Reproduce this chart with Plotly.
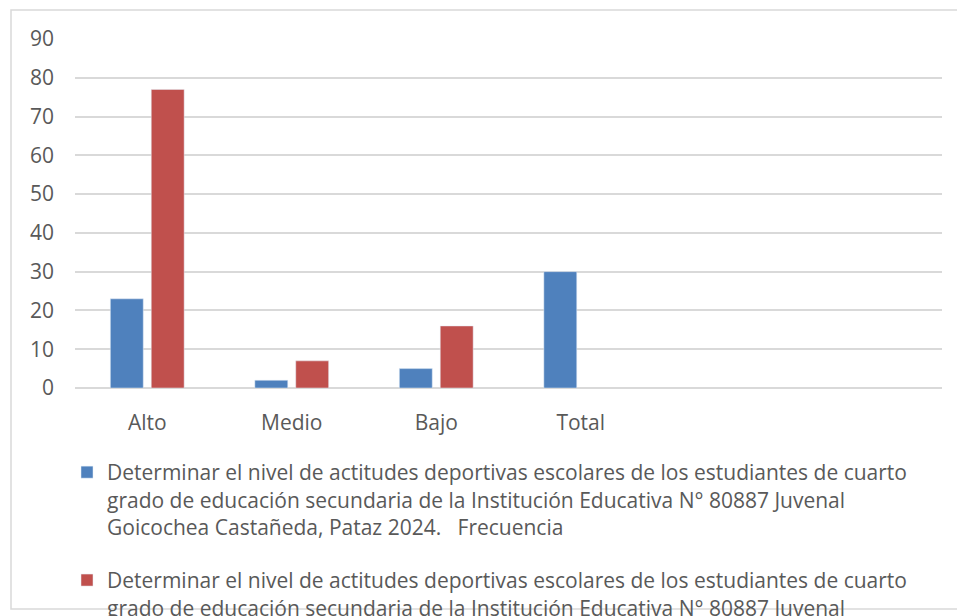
import plotly.graph_objects as go

categories = ["Alto", "Medio", "Bajo", "Total", " ", "  "]
frecuencia = [23, 2, 5, 30, None, None]
porcentaje = [77, 7, 16, None, None, None]
y_ticks = [0, 10, 20, 30, 40, 50, 60, 70, 80, 90]

name_base = ("Determinar el nivel de actitudes deportivas escolares de los estudiantes de cuarto<br>"
             "grado de educación secundaria de la Institución Educativa N° 80887 Juvenal<br>"
             "Goicochea Castañeda, Pataz 2024.   ")
name_freq = name_base + "Frecuencia"
name_pct = name_base + "Porcentaje"

# page body has an 8px margin, so the figure is drawn 8px in from the corner
OFF = 8
W, H = 965 - OFF, 616 - OFF
L = 75 - OFF
T = 39 - OFF
R = W - (942 - OFF)
B = H - (388 - OFF)
pw, ph = W - L - R, H - T - B

def px_x(p):
    return (p - OFF - L) / pw

def px_y(p):
    return (H - B - (p - OFF)) / ph

FONT = "Open Sans"
GREY = "#595959"

fig = go.Figure()
fig.add_trace(go.Bar(x=categories, y=frecuencia, name=name_freq, marker_color="#4F81BD",
                     legendgroup="a"))
fig.add_trace(go.Bar(x=categories, y=porcentaje, name=name_pct, marker_color="#C0504D",
                     legendgroup="b"))

fig.update_layout(
    width=W, height=H,
    margin=dict(l=L, r=R, t=T, b=B, autoexpand=False),
    paper_bgcolor="white", plot_bgcolor="white",
    barmode="group", bargap=0.434, bargroupgap=0.195,
    font=dict(family=FONT, color=GREY, size=21),
    xaxis=dict(showgrid=False, showline=False, zeroline=False, tickfont=dict(size=21),
               ticklabelstandoff=20, fixedrange=True),
    yaxis=dict(range=[0, 90], tickvals=y_ticks, showgrid=True, gridcolor="#D9D9D9", gridwidth=1.5,
               zeroline=True, zerolinecolor="#D9D9D9", zerolinewidth=1.5,
               ticklabelstandoff=20, tickfont=dict(size=21)),
    showlegend=True,
    legend=dict(orientation="v", xref="container", yref="container",
                x=(100 - OFF - 41 + OFF) / W, xanchor="left",
                y=1 - (452 - OFF) / H, yanchor="top", valign="top",
                font=dict(size=21, color=GREY, family=FONT),
                traceorder="grouped", tracegroupgap=23, bgcolor="rgba(0,0,0,0)"),
    shapes=[dict(type="rect", xref="paper", yref="paper",
                 x0=px_x(11), x1=px_x(980), y0=px_y(609), y1=px_y(10),
                 line=dict(color="#D9D9D9", width=1.5), layer="below")],
)

fig.write_html("out.html")
